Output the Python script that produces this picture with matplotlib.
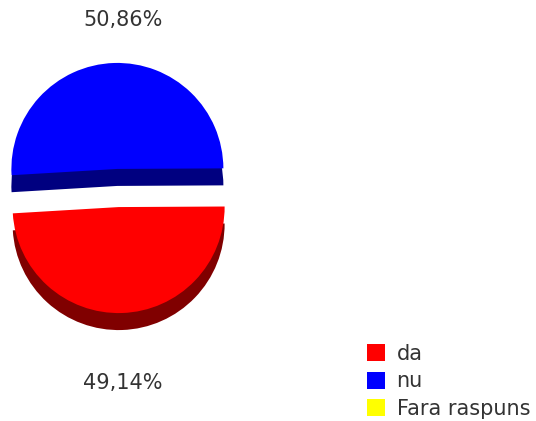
import matplotlib
matplotlib.use("Agg")
import matplotlib.pyplot as plt

# values
labels = ["da", "nu", "Fara raspuns"]
shares = [49.14, 50.86, 0.0]
colors = ["#ff0000", "#0000ff", "#ffff00"]
side_colors = ["#800000", "#000080", "#808000"]

W, H = 536, 421
cx, cy, scale = 118, 188, 106.0     # pie centre and radius in pixels
depth = 17 / scale
explode = [0.18, 0.18, 0.0]
start = 183.4                       # red starts at the left edge, blue edge runs slightly uphill

fig = plt.figure(figsize=(W / 100, H / 100), dpi=100)
ax = fig.add_axes([0, 0, 1, 1])

# side of the 3d pie: same pie dropped by the depth, darker
ax.pie(shares, colors=side_colors, startangle=start, explode=explode,
       center=(0, -depth), wedgeprops=dict(linewidth=0))
wedges, _ = ax.pie(shares, colors=colors, startangle=start, explode=explode,
                   wedgeprops=dict(linewidth=0))

ax.set_xlim(-cx / scale, (W - cx) / scale)
ax.set_ylim(-(H - cy) / scale, cy / scale)
ax.set_aspect("auto")
ax.axis("off")

def pct(v):
    return f"{v:.2f}".replace(".", ",") + "%"

ax.text(5 / scale, (cy - 20) / scale, pct(shares[1]), ha="center", va="center",
        fontsize=15, color="#333333")
ax.text(5 / scale, (cy - 383) / scale, pct(shares[0]), ha="center", va="center",
        fontsize=15, color="#333333")

leg = ax.legend(wedges, labels, loc="upper left",
                bbox_to_anchor=(367 / W, 1 - 344 / H), bbox_transform=fig.transFigure,
                frameon=False, fontsize=15, handlelength=0.87, handleheight=0.87,
                handletextpad=0.55, labelspacing=0.35, borderpad=0, borderaxespad=0)
for t in leg.get_texts():
    t.set_color("#333333")

fig.savefig("out.png", dpi=100)
